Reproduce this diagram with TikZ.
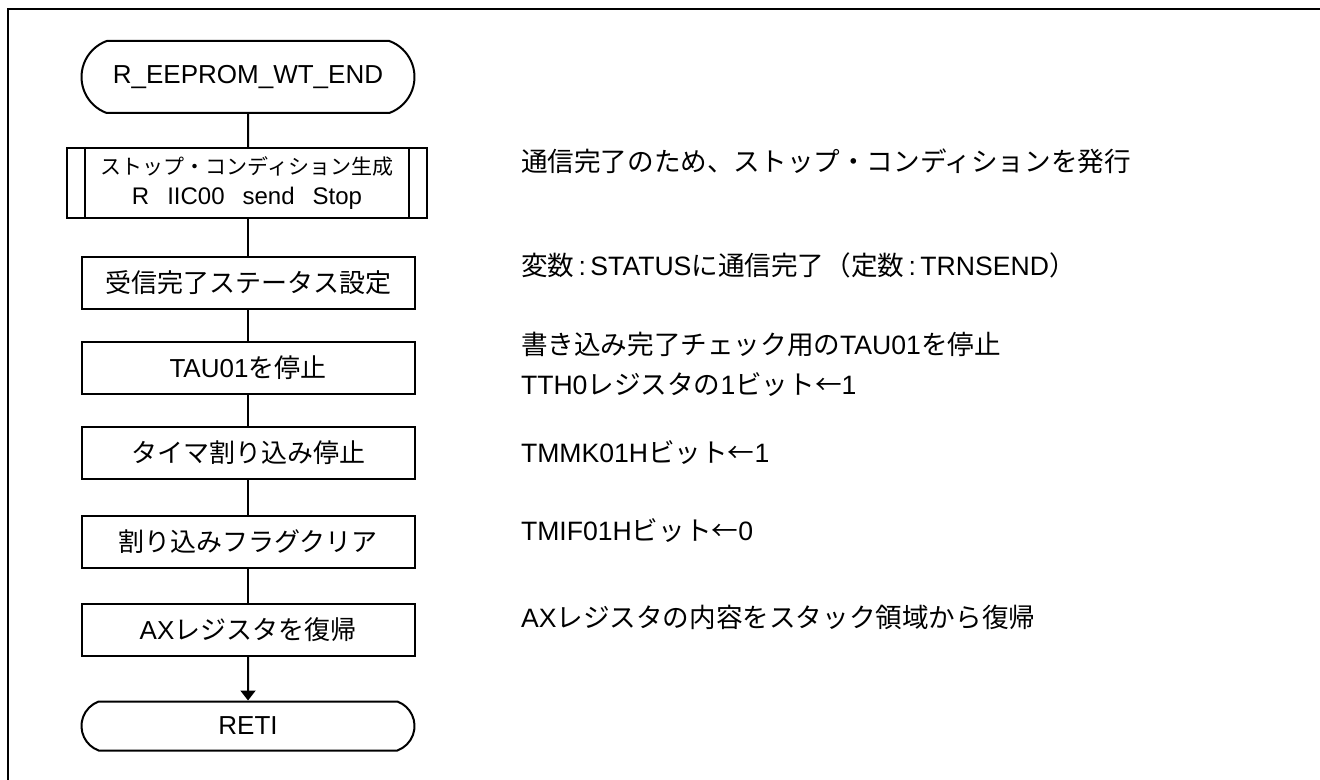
\documentclass[tikz,border=0pt]{standalone}
\usepackage{fontspec}
\setmainfont{Liberation Sans}
\newfontfamily\jp{Noto Sans CJK JP}
\usetikzlibrary{arrows.meta,shapes.misc}

\begin{document}
\begin{tikzpicture}[x=0.5pt,y=-0.5pt,line width=1pt,
  terminal/.style={draw,rounded rectangle,rounded rectangle arc length=140,minimum width=166.5pt,inner sep=0pt,font=\fontsize{13pt}{16pt}\selectfont},
  procbox/.style={draw,rectangle,minimum width=166.5pt,minimum height=26pt,inner sep=0pt,font=\fontsize{13pt}{16pt}\selectfont},
  subproc/.style={draw,rectangle,minimum width=180pt,minimum height=35pt,inner sep=0pt,align=center,font=\fontsize{12pt}{15pt}\selectfont},
  note/.style={anchor=west,inner sep=0pt,align=left,font=\fontsize{13.3pt}{20pt}\selectfont}]
\useasboundingbox (0,0) rectangle (1320,780);
\draw (1320,9) -- (8,9) -- (8,780);

\node[terminal,minimum height=36pt] (start) at (248,77) {R\_EEPROM\_WT\_END};
\node[subproc] (stop) at (247,183) {{\jp\fontsize{10.5pt}{15pt}\selectfont ストップ・コンディション生成}\\R\hspace{9pt}IIC00\hspace{9pt}send\hspace{9pt}Stop};
\draw ([xshift=9.5pt]stop.north west) -- ([xshift=9.5pt]stop.south west);
\draw ([xshift=-9.5pt]stop.north east) -- ([xshift=-9.5pt]stop.south east);
\node[procbox] (status) at (248,283) {\jp 受信完了ステータス設定};
\node[procbox] (tau) at (248,368) {TAU01{\jp を停止}};
\node[procbox] (timer) at (248,452.5) {\jp タイマ割り込み停止};
\node[procbox] (flag) at (248,542) {\jp 割り込みフラグクリア};
\node[procbox] (axreg) at (248,629.5) {AX{\jp レジスタを復帰}};
\node[terminal,minimum height=24.5pt] (reti) at (248,726) {RETI};

\draw (start) -- (start |- stop.north);
\draw (start |- stop.south) -- (status);
\draw (status) -- (tau);
\draw (tau) -- (timer);
\draw (timer) -- (flag);
\draw (flag) -- (axreg);
\draw[-{Triangle[width=7.5pt,length=5pt]}] (axreg) -- (reti);

\node[note] (stopnote) at (520,161) {\jp 通信完了のため、ストップ・コンディションを発行};
\node[note] (statusnote) at (520,265) {{\jp 変数}\,:\,STATUS{\jp に通信完了（定数}\,:\,TRNSEND{\jp ）}};
\node[note] (taunote) at (520,364) {{\jp 書き込み完了チェック用の}TAU01{\jp を停止}\\TTH0{\jp レジスタの}1{\jp ビット←}1};
\node[note] (timernote) at (520,453) {TMMK01H{\jp ビット←}1};
\node[note] (flagnote) at (520,531) {TMIF01H{\jp ビット←}0};
\node[note] (axnote) at (520,617) {AX{\jp レジスタの内容をスタック領域から復帰}};
\end{tikzpicture}
\end{document}
